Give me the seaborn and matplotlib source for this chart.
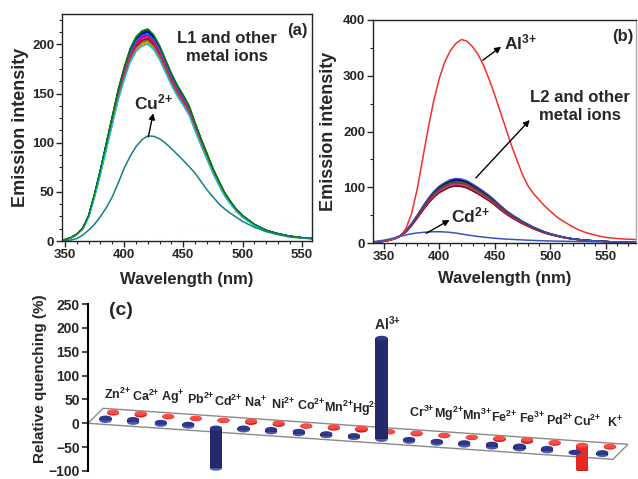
import numpy as np
import pandas as pd
import matplotlib
matplotlib.use('Agg')
import matplotlib.pyplot as plt
import seaborn as sns
from matplotlib.patches import Ellipse, Polygon
from matplotlib.ticker import MultipleLocator

sns.set_style('ticks')
plt.rcParams['font.family'] = ['Liberation Sans', 'DejaVu Sans']
plt.rcParams['font.weight'] = 'bold'
plt.rcParams['axes.labelweight'] = 'bold'
plt.rcParams['mathtext.fontset'] = 'custom'
plt.rcParams['mathtext.rm'] = 'Liberation Sans:bold'
plt.rcParams['mathtext.bf'] = 'Liberation Sans:bold'
plt.rcParams['mathtext.it'] = 'Liberation Sans:bold'
plt.rcParams['mathtext.default'] = 'bf'

# ---------------- data: panel (a) ----------------
WL_A = [345, 350, 355, 360, 365, 370, 375, 380, 385, 390, 395, 400, 405, 410,
        415, 420, 425, 430, 435, 440, 445, 450, 455, 460, 465, 470, 475, 480,
        485, 490, 495, 500, 510, 520, 530, 540, 550, 560]
L1_SHAPE = [0.5, 1.5, 3.5, 7, 13, 26, 48, 73, 100, 127, 154, 176, 195, 207,
            213, 215, 209, 198, 184, 170, 158, 148, 137, 120, 104, 89, 74, 61,
            49, 40, 32, 26, 17, 11, 7.5, 5, 3.5, 2.5]
CU_A = [0, 0.5, 1, 2.5, 6, 11, 17, 25, 34, 45, 59, 74, 86, 96,
        103, 107, 106.5, 104, 99.5, 94, 88, 82, 75.5, 69, 60.5, 52, 45, 38,
        32.5, 28, 24, 20, 14, 9.5, 6.5, 4, 3, 2]
L1_PEAKS = [212, 209, 213, 207, 205, 214, 211, 210, 206, 211, 202, 208, 204,
            203, 201, 204, 215, 200, 216]
L1_COLORS = ['#000000', '#ff0000', '#0000ff', '#ff00ff', '#808000', '#000080',
             '#8000ff', '#800080', '#800000', '#0080ff', '#ff8000', '#ff0080',
             '#808080', '#c0c000', '#e08000', '#a0522d', '#006000', '#00c8ff',
             '#008000']
CU_COLOR_A = '#138080'

# ---------------- data: panel (b) ----------------
WL_B = [340, 345, 350, 355, 360, 365, 370, 375, 380, 385, 390, 395, 400, 405,
        410, 415, 420, 425, 430, 435, 440, 445, 450, 455, 460, 465, 470, 475,
        480, 485, 490, 495, 500, 505, 510, 515, 520, 525, 530, 535, 540, 545,
        550, 555, 560, 565, 570, 575, 580]
L2_SHAPE = [1, 2, 3, 5, 8, 13, 21, 33, 47, 62, 76, 88, 97, 103,
            108, 110, 109, 106, 100.5, 94.5, 88, 81, 73, 64, 56, 49, 43, 37,
            32, 27, 23, 19, 16, 13.5, 11, 9, 7.5, 6.3, 5.3, 4.5, 3.8, 3.2,
            2.7, 2.3, 2, 1.7, 1.5, 1.3, 1.2]
AL_B = [2, 3, 4, 5.5, 7, 12, 26, 52, 95, 150, 205, 255, 295, 325,
        345, 358, 365, 362, 352, 338, 318, 293, 265, 235, 205, 175, 148, 122,
        102, 88, 77, 66, 57, 48, 41, 35, 29, 24, 20, 17, 14.5, 12,
        10, 9, 8, 7.3, 6.8, 6.4, 6]
CD_B = [2, 3.5, 5, 7, 9.5, 12, 14.5, 16.5, 18, 19, 19.8, 20.2, 20.2, 19.8,
        19, 17.8, 16.2, 14.5, 13, 11.8, 10.5, 9.5, 8.5, 7.7, 7, 6.5, 6, 5.5,
        5, 4.6, 4.2, 3.9, 3.6, 3.4, 3.2, 3, 2.8, 2.6, 2.5, 2.4, 2.2, 2.1,
        2, 1.9, 1.8, 1.7, 1.6, 1.5, 1.5]
L2_PEAKS = [108, 104, 112, 106, 110, 114, 103, 107, 111, 105, 109, 113, 102,
            106, 110, 108, 115, 116]
L2_COLORS = ['#000000', '#cc2020', '#3050c0', '#e040a0', '#208040', '#101060',
             '#7a1020', '#20a040', '#303030', '#c03070', '#4060c0', '#000080',
             '#701010', '#d04090', '#108030', '#b02030', '#202020', '#3858c8']
AL_COLOR = '#f23030'
CD_COLOR = '#3a55c0'

# ---------------- data: panel (c) ----------------
IONS = ['Zn', 'Ca', 'Ag', 'Pb', 'Cd', 'Na', 'Ni', 'Co', 'Mn', 'Hg',
        'Al', 'Cr', 'Mg', 'Mn', 'Fe', 'Fe', 'Pd', 'Cu', 'K']
CHARGES = ['2+', '2+', '+', '2+', '2+', '+', '2+', '2+', '2+', '2+',
           '3+', '3+', '2+', '3+', '2+', '3+', '2+', '2+', '+']
Q_L1 = [2, 3, 1, 1, 1, 3, 3, 1, 3, 4, 1, 2, 1, 1, 3, 4, 2, -51, 2]
Q_L2 = [5, 6, 4, 4, -84, 4, 5, 5, 4, 4, 212, 4, 4, 5, 6, 6, 5, 1, 4]
YTICKS_C = [-100, -50, 0, 50, 100, 150, 200, 250]


def ion_label(sym, charge):
    sup = charge.replace('+', '{+}')
    return sym + r'$^{' + sup + r'}$'


# ---------------- figure ----------------
fig = plt.figure(figsize=(6.38, 4.79), dpi=100)

def style_spec_axes(ax):
    for s in ax.spines.values():
        s.set_visible(True)
        s.set_linewidth(1.0)
        s.set_color('#222222')
    ax.tick_params(which='major', direction='out', length=4, width=1,
                   labelsize=9.5, pad=1.5)
    ax.tick_params(which='minor', direction='out', length=2, width=0.8)
    ax.xaxis.set_minor_locator(MultipleLocator(10))
    for lab in ax.get_xticklabels() + ax.get_yticklabels():
        lab.set_fontweight('bold')

arrow = dict(arrowstyle='-|>', color='black', lw=1.0, mutation_scale=9,
             shrinkA=0, shrinkB=0)

# ---- panel (a)
axa = fig.add_axes([62/638, 1-241/479, 250/638, 227/479])
for pk, col in zip(L1_PEAKS, L1_COLORS):
    vals = np.array(L1_SHAPE) * pk / max(L1_SHAPE)
    sns.lineplot(x=WL_A, y=vals, color=col, lw=0.9, ax=axa, legend=False)
sns.lineplot(x=WL_A, y=CU_A, color=CU_COLOR_A, lw=1.1, ax=axa, legend=False)
axa.set_xlim(347.5, 558.7)
axa.set_ylim(0, 231)
axa.set_xticks([350, 400, 450, 500, 550])
axa.set_yticks([0, 50, 100, 150, 200])
axa.yaxis.set_minor_locator(MultipleLocator(12.5))
style_spec_axes(axa)
axa.set_xlabel('Wavelength (nm)', fontsize=12, fontweight='bold')
axa.set_ylabel('Emission intensity', fontsize=13, fontweight='bold')
axa.xaxis.set_label_coords(0.5, -0.135)
axa.yaxis.set_label_coords(-0.13, 0.5)
axa.text(487, 197, 'L1 and other\nmetal ions', ha='center', va='center',
         fontsize=12, fontweight='bold', linespacing=1.25)
axa.text(546, 214, '(a)', ha='center', va='center', fontsize=12, fontweight='bold')
axa.text(425, 141, ion_label('Cu', '2+'), ha='center', va='center', fontsize=12.5)
axa.annotate('', xy=(424.6, 130), xytext=(420.4, 106), arrowprops=arrow)

# ---- panel (b)
axb = fig.add_axes([373/638, 1-243/479, 263/638, 223/479])
for pk, col in zip(L2_PEAKS, L2_COLORS):
    vals = np.array(L2_SHAPE) * pk / max(L2_SHAPE)
    sns.lineplot(x=WL_B, y=vals, color=col, lw=0.9, ax=axb, legend=False)
sns.lineplot(x=WL_B, y=AL_B, color=AL_COLOR, lw=1.1, ax=axb, legend=False)
sns.lineplot(x=WL_B, y=CD_B, color=CD_COLOR, lw=1.1, ax=axb, legend=False)
axb.set_xlim(340.4, 577.0)
axb.set_ylim(0, 400)
axb.set_xticks([350, 400, 450, 500, 550])
axb.set_yticks([0, 100, 200, 300, 400])
axb.yaxis.set_minor_locator(MultipleLocator(50))
style_spec_axes(axb)
axb.spines['right'].set_color('#aaaaaa')
axb.set_xlabel('Wavelength (nm)', fontsize=12, fontweight='bold')
axb.set_ylabel('Emission intensity', fontsize=13, fontweight='bold')
axb.xaxis.set_label_coords(0.5, -0.125)
axb.yaxis.set_label_coords(-0.135, 0.5)
axb.text(473, 359, ion_label('Al', '3+'), ha='center', va='center', fontsize=12.5)
axb.annotate('', xy=(455.7, 352), xytext=(439.2, 328), arrowprops=arrow)
axb.text(526.4, 245, 'L2 and other\nmetal ions', ha='center', va='center',
         fontsize=12, fontweight='bold', linespacing=1.25)
axb.annotate('', xy=(481.4, 220.6), xytext=(432.9, 116.6), arrowprops=arrow)
axb.text(428.4, 50, ion_label('Cd', '2+'), ha='center', va='center', fontsize=12.5)
axb.annotate('', xy=(409.3, 41.3), xytext=(388.3, 17.4), arrowprops=arrow)
axb.text(565, 370, '(b)', ha='center', va='center', fontsize=12, fontweight='bold')

# ---- panel (c): pseudo-3D cylinders on a sloping floor
axc = fig.add_axes([88/638, 1-471/479, 550/638, 167/479])
n = len(IONS)
FLOOR_SLOPE = -3.97          # value drop per category along the front edge
DX, DY = 0.543, 31.4         # depth vector (category units, value units)
W, EH = 0.44, 10.5           # cylinder width and ellipse height
axc.set_xlim(-0.5, -0.5 + 550/27.6)
axc.set_ylim(-100, 250)

fl = -0.5
fr = n - 1 + 0.52
floor = Polygon([[fl, 0], [fr, FLOOR_SLOPE*(fr+0.5)],
                 [fr+DX, FLOOR_SLOPE*(fr+0.5)+DY], [fl+DX, DY]],
                closed=True, facecolor='white', edgecolor='#8a8a8a', lw=1.0,
                zorder=1)
axc.add_patch(floor)

def draw_row(values, depth, body, top, rim, z):
    for i, v in enumerate(values):
        cx = i + depth*DX
        base = FLOOR_SLOPE*(i + 0.5) + depth*DY
        lo, hi = min(base, base+v), max(base, base+v)
        axc.add_patch(Ellipse((cx, lo), W, EH, facecolor=rim, edgecolor='none',
                              zorder=z))
        axc.bar([cx], [hi-lo], bottom=[lo], width=W, color=body,
                edgecolor='none', zorder=z+0.1)
        axc.add_patch(Ellipse((cx, hi), W, EH, facecolor=top, edgecolor='none',
                              zorder=z+0.2))

draw_row(Q_L1, 0.75, '#e52a26', '#ff4b45', '#c81e1c', 3)
draw_row(Q_L2, 0.25, '#232a6c', '#2f378a', '#4a5aa5', 6)

LABEL_Y0, LABEL_DROP = 60, 3.33
for i, (ion, ch) in enumerate(zip(IONS, CHARGES)):
    lab = ion_label(ion, ch)
    if ion == 'Al':
        cx = i + 0.25*DX
        topv = FLOOR_SLOPE*(i + 0.5) + 0.25*DY + Q_L2[i]
        axc.text(cx + 0.2, topv + 31, lab, ha='center', va='center', fontsize=10)
    else:
        axc.text(i + 0.58, LABEL_Y0 - LABEL_DROP*i, lab, ha='center',
                 va='center', fontsize=9)

for s in ['top', 'right', 'bottom']:
    axc.spines[s].set_visible(False)
axc.spines['left'].set_linewidth(1.5)
axc.spines['left'].set_color('black')
axc.set_xticks([])
axc.set_yticks(YTICKS_C)
axc.tick_params(axis='y', direction='out', length=4, width=1.2, labelsize=10,
                pad=2)
for lab in axc.get_yticklabels():
    lab.set_fontweight('bold')
axc.set_ylabel('Relative quenching (%)', fontsize=11, fontweight='bold')
axc.yaxis.set_label_coords(-0.075, 0.55)
axc.text(0.7, 237, '(c)', ha='center', va='center', fontsize=14, fontweight='bold')
axc.patch.set_visible(False)

fig.savefig('out.png', dpi=100)
